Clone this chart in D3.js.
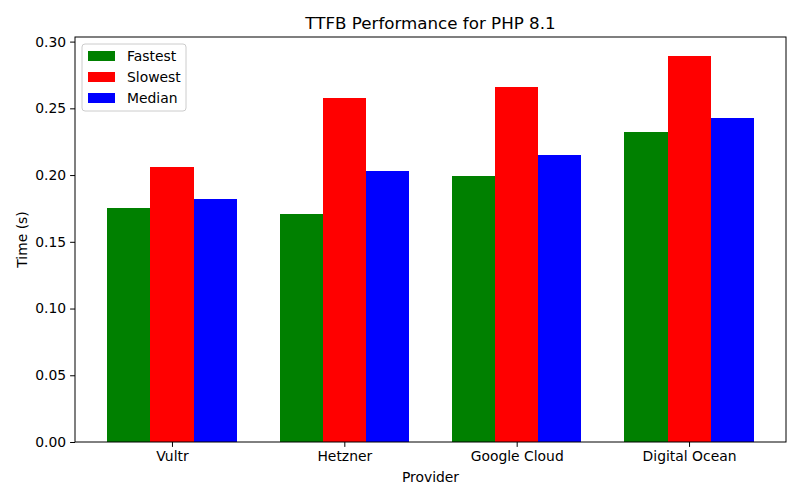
<!DOCTYPE html>
<html>
<head>
<meta charset="utf-8">
<script src="https://cdn.jsdelivr.net/npm/d3@7"></script>
<style>
  body { margin: 0; background: #fff; }
  svg { font-family: "DejaVu Sans", sans-serif; }
</style>
</head>
<body>
<div id="chart"></div>
<script>
const providers = ["Vultr", "Hetzner", "Google Cloud", "Digital Ocean"];
const seriesNames = ["Fastest", "Slowest", "Median"];
const seriesColors = ["green", "red", "blue"];
const fastest = [0.175, 0.171, 0.199, 0.232];
const slowest = [0.206, 0.258, 0.266, 0.289];
const median = [0.182, 0.203, 0.215, 0.243];
const yTicks = [0, 0.05, 0.10, 0.15, 0.20, 0.25, 0.30];

const width = 800, height = 500;
const margin = {top: 37, right: 14, bottom: 58, left: 75};
const barW = 0.25;

const svg = d3.select("#chart").append("svg")
    .attr("width", width)
    .attr("height", height);

// matplotlib-like limits with 5% margins
const xMin = -barW * 1.5, xMax = providers.length - 1 + barW * 1.5;
const xPad = (xMax - xMin) * 0.05;
const x = d3.scaleLinear()
    .domain([xMin - xPad, xMax + xPad])
    .range([margin.left, width - margin.right]);

const yMax = d3.max(slowest.concat(fastest, median)) * 1.05;
const y = d3.scaleLinear()
    .domain([0, yMax])
    .range([height - margin.bottom, margin.top]);

const allSeries = [fastest, slowest, median];

allSeries.forEach((vals, s) => {
    svg.append("g").selectAll("rect")
        .data(vals)
        .join("rect")
        .attr("x", (d, i) => x(i + (s - 1) * barW - barW / 2))
        .attr("width", x(barW) - x(0))
        .attr("y", d => y(d))
        .attr("height", d => y(0) - y(d))
        .attr("fill", seriesColors[s])
        .attr("shape-rendering", "crispEdges");
});

// axes
const xAxis = d3.axisBottom(x)
    .tickValues(d3.range(providers.length))
    .tickFormat(i => providers[i])
    .tickSize(4.9).tickPadding(4);
const yAxis = d3.axisLeft(y)
    .tickValues(yTicks)
    .tickFormat(d3.format(".2f"))
    .tickSize(4.9).tickPadding(4);

const gx = svg.append("g")
    .attr("transform", `translate(0,${height - margin.bottom})`)
    .call(xAxis);
const gy = svg.append("g")
    .attr("transform", `translate(${margin.left},0)`)
    .call(yAxis);

[gx, gy].forEach(g => {
    g.select(".domain").remove();
    g.selectAll("text").attr("font-size", 13.9).attr("fill", "#000")
        .attr("font-family", "DejaVu Sans");
    g.selectAll("line").attr("stroke", "#000").attr("stroke-width", 1);
});

// frame
svg.append("rect")
    .attr("x", margin.left).attr("y", margin.top)
    .attr("width", width - margin.left - margin.right)
    .attr("height", height - margin.top - margin.bottom)
    .attr("fill", "none").attr("stroke", "#000").attr("stroke-width", 1);

// title and labels
svg.append("text")
    .attr("x", (margin.left + width - margin.right) / 2)
    .attr("y", margin.top - 8)
    .attr("text-anchor", "middle")
    .attr("font-size", 16.7)
    .text("TTFB Performance for PHP 8.1");

svg.append("text")
    .attr("x", (margin.left + width - margin.right) / 2)
    .attr("y", 482)
    .attr("text-anchor", "middle")
    .attr("font-size", 13.9)
    .text("Provider");

svg.append("text")
    .attr("transform", `translate(27,${(margin.top + height - margin.bottom) / 2}) rotate(-90)`)
    .attr("text-anchor", "middle")
    .attr("font-size", 13.9)
    .text("Time (s)");

// legend
const leg = svg.append("g").attr("transform", `translate(${margin.left + 7},${margin.top + 7})`);
leg.append("rect")
    .attr("width", 104).attr("height", 67)
    .attr("rx", 3)
    .attr("fill", "#fff").attr("fill-opacity", 0.8)
    .attr("stroke", "#ccc");
seriesNames.forEach((name, i) => {
    leg.append("rect")
        .attr("x", 6).attr("y", 7 + i * 21)
        .attr("width", 27).attr("height", 10)
        .attr("fill", seriesColors[i]);
    leg.append("text")
        .attr("x", 45).attr("y", 17 + i * 21)
        .attr("font-size", 13.9)
        .text(name);
});
</script>
</body>
</html>
